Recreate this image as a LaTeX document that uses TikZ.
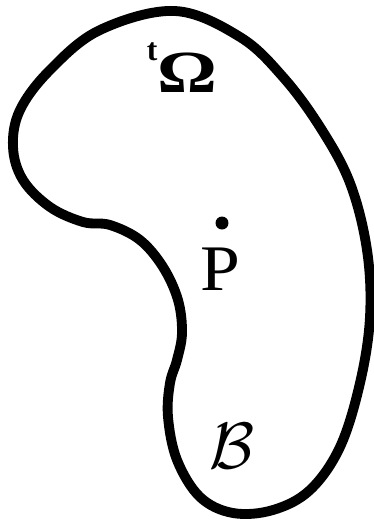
\documentclass[tikz,border=0pt]{standalone}
\usepackage{amsmath}
\usepackage{fontspec}
\setmainfont{Liberation Serif}
\usepackage{tikz}

\begin{document}
\begin{tikzpicture}[x=0.02cm, y=-0.02cm, lbl/.style={inner sep=0pt}]

	% Cornice dell'immagine
	\useasboundingbox (0,0) rectangle (374,528);

	% Contorno del corpo
	\draw[line width=5.6pt, line join=round] plot[smooth cycle, tension=0.6] coordinates {
		(175,11) (100,30) (50,70) (20,110) (13,147) (23,180) (50,207)
		(83,222) (110,225) (140,240) (163,267) (178,300) (182,333)
		(177,360) (170,383) (168,417) (177,460) (200,497) (233,513)
		(273,510) (310,490) (340,447) (360,383) (370,317) (367,250)
		(350,183) (320,127) (283,77) (240,37)
	};

	% Etichette
	\node[lbl, anchor=base, font=\fontsize{34}{38}\selectfont\bfseries] (omega) at (182,92)
		{\raisebox{0.52em}{\fontsize{18}{18}\selectfont t}\scalebox{1.25}[1]{Ω}};
	\node[circle, fill, inner sep=0pt, minimum size=0.26cm] (pdot) at (222,223) {};
	\node[lbl, anchor=base, font=\fontsize{37}{40}\selectfont] (p) at (220,290) {\scalebox{1.1}[1]{P}};
	\node[lbl, anchor=base, font=\Huge, scale=1.5] (body) at (232,468) {$\mathcal{B}$};

\end{tikzpicture}
\end{document}
